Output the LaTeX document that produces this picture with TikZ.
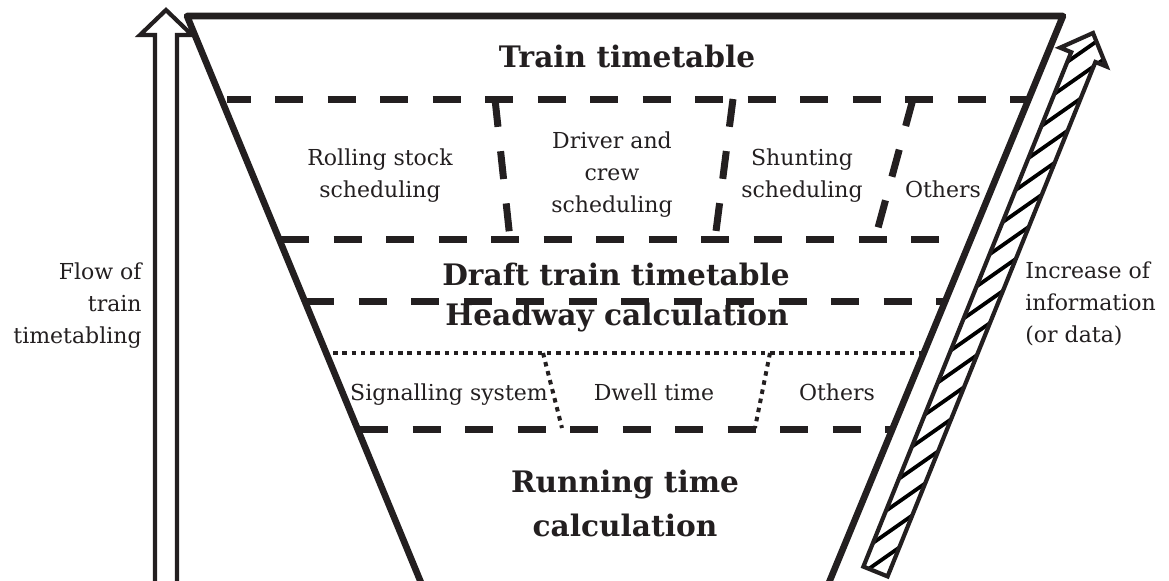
\documentclass[tikz,border=0pt]{standalone}
\usepackage{fontspec}
\setmainfont{DejaVu Serif}
\definecolor{ink}{HTML}{231F20}
\begin{document}
\begin{tikzpicture}[
 x=0.5pt, y=-0.5pt,
 funnelline/.style={draw=ink, line width=3.3pt, line join=round, line cap=round},
 heavydash/.style={draw=ink, line width=3.5pt, dash pattern=on 14pt off 12.25pt},
 finedot/.style={draw=ink, line width=2pt, dash pattern=on 2.25pt off 2.4pt},
 arrowoutline/.style={draw=ink, line width=2.1pt, line join=miter},
 stripe/.style={draw=black, line width=1.9pt},
 reg/.style={font=\fontsize{11}{16}\selectfont, text=ink, inner sep=0pt, align=center},
 big/.style={font=\fontsize{14.8}{22}\selectfont\bfseries, text=ink, inner sep=0pt, align=center},
]
\useasboundingbox (0,0) rectangle (1169,580);

% left hollow arrow
\draw[arrowoutline, fill=white] (155,590) -- (155,35) -- (140,35) -- (166,10) -- (192,35) -- (177,35) -- (177,590);

% hatched arrow
\coordinate (h1) at (863.4,566.6);
\coordinate (h2) at (1071.2,52.2);
\coordinate (h3) at (1060.1,47.7);
\coordinate (h4) at (1093,33);
\coordinate (h5) at (1106.5,66.5);
\coordinate (h6) at (1095.4,62.0);
\coordinate (h7) at (887.6,576.4);
\begin{scope}
 \clip (h1) -- (h2) -- (h3) -- (h4) -- (h5) -- (h6) -- (h7) -- cycle;
 \foreach \k in {0,...,24} {
  \draw[stripe] (780,{700-23*\k}) -- (1140,{700-23*\k-252});
 }
\end{scope}
\draw[arrowoutline] (h1) -- (h2) -- (h3) -- (h4) -- (h5) -- (h6) -- (h7) -- cycle;

% funnel
\draw[funnelline] (422,585) -- (187,16) -- (1063,16) -- (828,585);

% horizontal separators
\draw[heavydash, dash phase=2.25pt] (227,99) -- (1027,99);
\draw[heavydash] (281,239) -- (945,239);
\draw[heavydash] (306,301) -- (946,301);
\draw[finedot] (333,353) -- (923,353);
\draw[heavydash] (360,429) -- (892,429);

% slanted dividers
\draw[heavydash] (495,99) -- (510,239);
\draw[heavydash] (733,99) -- (715,239);
\draw[heavydash] (913,99) -- (875,239);
\draw[finedot] (543,353) -- (562,428);
\draw[finedot] (770,353) -- (755,428);

% texts (base anchor = baseline of the last line)
\node[big, anchor=base] (tt) at (627,67) {Train timetable};
\node[big, anchor=base] (dtt) at (616,285) {Draft train timetable};
\node[big, anchor=base] (hc) at (617,325) {Headway calculation};
\node[big, anchor=base] (rtc) at (625,536) {Running time\\calculation};
\node[reg, anchor=base] (rs) at (380,197) {Rolling stock\\scheduling};
\node[reg, anchor=base] (dc) at (612,212) {Driver and\\crew\\scheduling};
\node[reg, anchor=base] (sh) at (802,197) {Shunting\\scheduling};
\node[reg, anchor=base] (ot1) at (943,197) {Others};
\node[reg, anchor=base] (sig) at (449,400) {Signalling system};
\node[reg, anchor=base] (dw) at (654,400) {Dwell time};
\node[reg, anchor=base] (ot2) at (837,400) {Others};
\node[reg, align=right, anchor=base east] (flow) at (142,343) {Flow of\\train\\timetabling};
\node[reg, align=left, anchor=base west] (inc) at (1025,342) {Increase of\\information\\(or data)};
\end{tikzpicture}
\end{document}
